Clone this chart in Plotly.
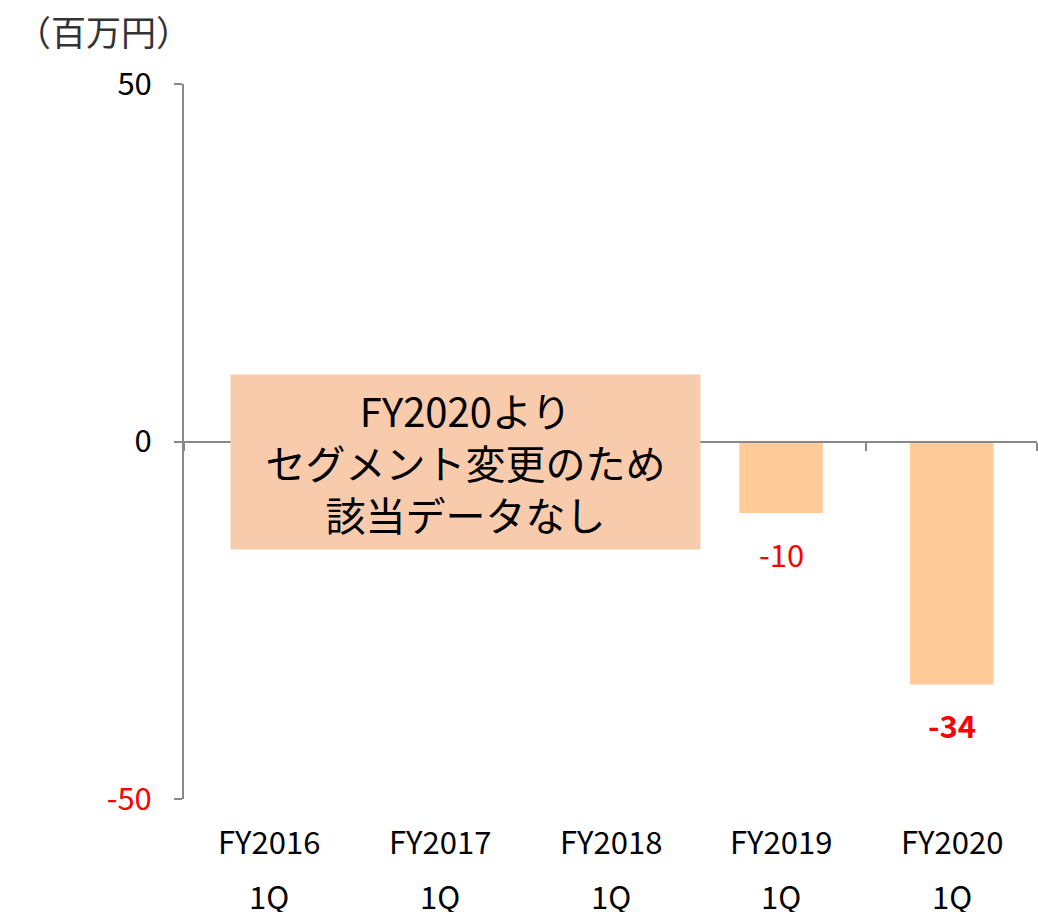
import plotly.graph_objects as go

categories = ["FY2016", "FY2017", "FY2018", "FY2019", "FY2020"]
quarters = ["1Q", "1Q", "1Q", "1Q", "1Q"]
values = [None, None, None, -10, -34]
labels = ["", "", "", "-10", "-34"]
label_bold = [False, False, False, False, True]
y_ticks = [-50, 0, 50]
y_ticktext = ["<span style='color:#FF0000'>-50</span>", "0", "50"]
note_text = "FY2020より<br>セグメント変更のため<br>該当データなし"
unit_text = "（百万円）"

FONT = "Noto Sans CJK JP"
FS = 31
xs = list(range(len(categories)))

fig = go.Figure()
fig.add_trace(go.Bar(x=xs, y=values, marker=dict(color="#FFCC99", line=dict(width=0)),
                     width=0.49, showlegend=False, hoverinfo="skip"))

annotations = []
for i, (v, lab, b) in enumerate(zip(values, labels, label_bold)):
    if v is None:
        continue
    annotations.append(dict(x=i, y=v, xref="x", yref="y", text=f"<b>{lab}</b>" if b else lab,
                            showarrow=False, yshift=-40,
                            font=dict(family=FONT, size=FS, color="#FF0000")))
for i, (c, q) in enumerate(zip(categories, quarters)):
    annotations.append(dict(x=i, y=0, xref="x", yref="paper", text=c, showarrow=False,
                            yanchor="middle", yshift=-41, font=dict(family=FONT, size=FS, color="#000000")))
    annotations.append(dict(x=i, y=0, xref="x", yref="paper", text=q, showarrow=False,
                            yanchor="middle", yshift=-96, font=dict(family=FONT, size=FS, color="#000000")))
annotations.append(dict(x=1.15, y=-2.9, xref="x", yref="y", text=note_text, showarrow=False,
                        width=469, height=174, bgcolor="#F8CBAD", borderpad=0, align="center",
                        font=dict(family=FONT, size=40, color="#000000")))
annotations.append(dict(x=0, y=1, xref="paper", yref="paper", xanchor="left", yanchor="middle",
                        xshift=-170, yshift=54, text=unit_text, showarrow=False,
                        font=dict(family=FONT, size=35, color="#333333")))

fig.update_layout(
    width=1038, height=912,
    margin=dict(l=184, r=1, t=84, b=113),
    paper_bgcolor="white", plot_bgcolor="white",
    font=dict(family=FONT, size=FS, color="#000000"),
    annotations=annotations,
    xaxis=dict(range=[-0.5, len(categories) - 0.5], anchor="free", position=0.5,
               showline=True, linecolor="#888888", linewidth=2,
               tickvals=[i - 0.5 for i in range(len(categories) + 1)],
               ticks="outside", ticklen=8, tickwidth=2, tickcolor="#888888",
               showticklabels=False, showgrid=False, zeroline=False),
    yaxis=dict(range=[-50, 50], tickvals=y_ticks, ticktext=y_ticktext,
               showline=True, linecolor="#888888", linewidth=2,
               ticks="outside", ticklen=8, tickwidth=2, tickcolor="#888888",
               showgrid=False, zeroline=False, ticklabelstandoff=16, automargin=False,
               tickfont=dict(family=FONT, size=FS, color="#000000")),
)
fig.write_html("out.html", config={"displayModeBar": False},
               post_script="document.body.style.margin='0';")
